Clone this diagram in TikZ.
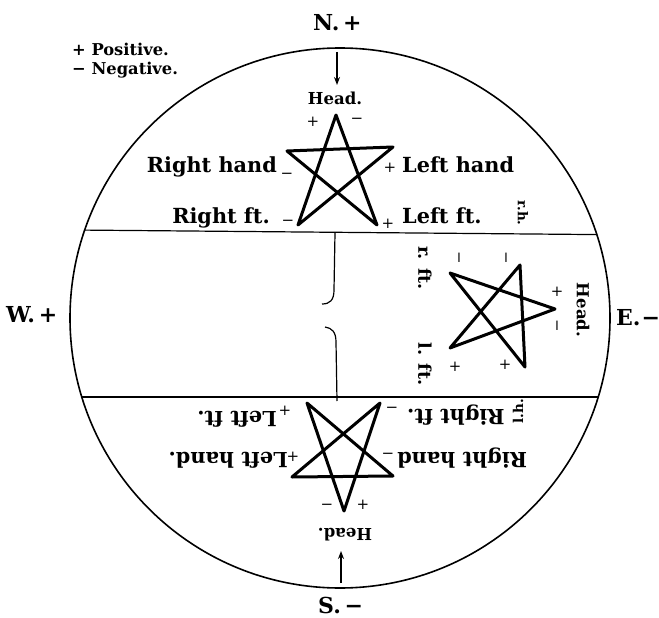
\documentclass[tikz,border=0pt]{standalone}
\usepackage{fontspec}
\setmainfont{DejaVu Serif}
\usetikzlibrary{arrows.meta}
\newcommand{\mns}{−}
\newcommand{\pls}{+}
\tikzset{
 lbl/.style={font=\fontsize{20.8}{22}\selectfont\bfseries, inner sep=0pt},
 cmp/.style={font=\fontsize{22}{24}\selectfont\bfseries, inner sep=0pt},
 hd/.style={font=\fontsize{16.5}{18}\selectfont\bfseries, inner sep=0pt},
 ft/.style={font=\fontsize{17.5}{19}\selectfont\bfseries, inner sep=0pt},
 leg/.style={font=\fontsize{16.3}{18}\selectfont\bfseries, inner sep=0pt},
 tinyl/.style={font=\fontsize{13.5}{15}\selectfont\bfseries, inner sep=0pt},
 sgn/.style={font=\fontsize{15}{17}\selectfont, inner sep=0pt},
 star/.style={line width=3pt, line join=round},
 thinl/.style={line width=1.2pt},
 arr/.style={line width=1.3pt, -{Stealth[length=8pt,width=6pt]}},
}
\begin{document}
\begin{tikzpicture}[x=1pt,y=-1pt]
\useasboundingbox (0,0) rectangle (659,618);
% circle
\node[draw, circle, line width=1.6pt, minimum size=540pt, inner sep=0pt, outer sep=0pt] (C) at (340,318) {};
\draw[thinl] (C.161.65) -- (C.18.35);
\draw[thinl] (C.197.68) -- (C.-17.68);
% middle bracket
\coordinate (m1) at (335,233);
\coordinate (m2) at (337,401);
\draw[thinl] (m1) -- (334,290) .. controls (334,300) and (330,304) .. (322,304);
\draw[thinl] (325,327) .. controls (332,328) and (336,332) .. (336,342) -- (m2);
% legend
\node[leg, anchor=base west] (lp) at (72,56) {+ Positive.};
\node[leg, anchor=base west] (ln) at (72,75) {− Negative.};
% compass
\node[cmp, anchor=base west] (N) at (313,31) {N.\,+};
\node[cmp, anchor=base west] (W) at (6,322) {W.\,+};
\node[cmp, anchor=base west] (E) at (616,325) {E.\kern1pt\mns};
\node[cmp, anchor=base west] (S) at (318,613) {S.\,\mns};
% top section
\coordinate (aN1) at (337,52);
\coordinate (aN2) at (337,85);
\draw[arr] (aN1) -- (aN2);
\node[hd, anchor=base] (headT) at (335,105) {Head.};
\coordinate (t1) at (336,115);
\coordinate (t2) at (287,151);
\coordinate (t3) at (393,147);
\coordinate (t4) at (298,225);
\coordinate (t5) at (377,225);
\draw[star] (t1) -- (t4) -- (t3) -- (t2) -- (t5) -- cycle;
\node[sgn] (s1) at (313,122) {\pls};
\node[sgn] (s2) at (357,121) {\mns};
\node[lbl, anchor=base east] (rhT) at (277,172) {Right hand};
\node[sgn] (s3) at (287,176) {\mns};
\node[sgn] (s4) at (390,168) {\pls};
\node[lbl, anchor=base west] (lhT) at (402,172) {Left hand};
\node[lbl, anchor=base east] (rfT) at (270,223) {Right ft.};
\node[sgn] (s5) at (288,223) {\mns};
\node[sgn] (s6) at (388,224) {\pls};
\node[lbl, anchor=base west] (lfT) at (402,223) {Left ft.};
\node[tinyl, rotate=-90] (rh) at (523,213) {r.h.};
% east section
\coordinate (e1) at (450,273);
\coordinate (e2) at (520,265);
\coordinate (e3) at (555,309);
\coordinate (e4) at (450,348);
\coordinate (e5) at (525,367);
\draw[star] (e3) -- (e1) -- (e5) -- (e2) -- (e4) -- cycle;
\node[sgn, rotate=-90] (s7) at (457,258) {\mns};
\node[sgn, rotate=-90] (s8) at (504,258) {\mns};
\node[sgn, rotate=-90] (s9) at (557,292) {\pls};
\node[sgn, rotate=-90] (s10) at (555,326) {\mns};
\node[sgn, rotate=-90] (s11) at (455,367) {\pls};
\node[sgn, rotate=-90] (s12) at (505,365) {\pls};
\node[ft, rotate=-90] (rfE) at (425,268) {r. ft.};
\node[ft, rotate=-90] (lfE) at (425,364) {l. ft.};
\node[hd, rotate=-90] (headE) at (583,310) {Head.};
% bottom section
\coordinate (b1) at (307,403);
\coordinate (b2) at (380,403);
\coordinate (b3) at (292,477);
\coordinate (b4) at (393,476);
\coordinate (b5) at (344,511);
\draw[star] (b5) -- (b1) -- (b4) -- (b3) -- (b2) -- cycle;
\node[lbl, rotate=180, anchor=base west] (lfB) at (277,411) {Left ft.};
\node[sgn] (s13) at (285,411) {\pls};
\node[sgn] (s14) at (392,410) {\mns};
\node[lbl, rotate=180, anchor=base east] (rfB) at (407,409) {Right ft.};
\node[tinyl, rotate=90] (lh) at (518,411) {l.h.};
\node[sgn] (s15) at (388,456) {\mns};
\node[lbl, rotate=180, anchor=base east] (rhB) at (397,452) {Right hand};
\node[sgn] (s16) at (293,457) {\pls};
\node[lbl, rotate=180, anchor=base west] (lhB) at (288,452) {Left hand.};
\node[sgn] (s17) at (327,507) {\mns};
\node[sgn] (s18) at (363,505) {\pls};
\node[hd, rotate=180, anchor=base] (headB) at (345,528) {Head.};
\coordinate (aS1) at (341,583);
\coordinate (aS2) at (341,551);
\draw[arr] (aS1) -- (aS2);
\end{tikzpicture}
\end{document}
